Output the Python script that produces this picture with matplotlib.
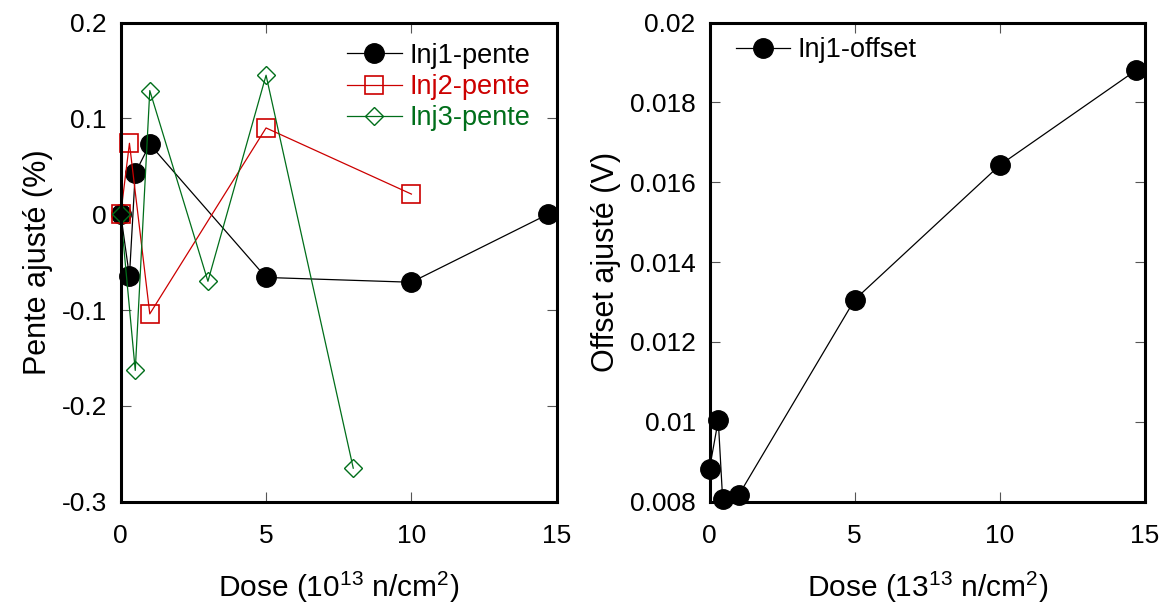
import matplotlib
matplotlib.use("Agg")
import matplotlib.pyplot as plt

plt.rcParams['font.family'] = ['Liberation Sans', 'DejaVu Sans']
plt.rcParams['mathtext.fontset'] = 'custom'
plt.rcParams['mathtext.rm'] = 'Liberation Sans'
plt.rcParams['mathtext.default'] = 'regular'

# pente data
x_inj1 = [0, 0.3, 0.5, 1, 5, 10, 14.7]
y_inj1 = [0, -0.065, 0.043, 0.073, -0.066, -0.071, 0]
x_inj2 = [0, 0.3, 1, 5, 10]
y_inj2 = [0, 0.074, -0.104, 0.09, 0.021]
x_inj3 = [0, 0.5, 1, 3, 5, 8]
y_inj3 = [0, -0.163, 0.129, -0.07, 0.145, -0.265]

# offset data
x_off = [0, 0.3, 0.45, 1, 5, 10, 14.7]
y_off = [0.00883, 0.01004, 0.00808, 0.00816, 0.01306, 0.01643, 0.01881]

left_yticks = [-0.3, -0.2, -0.1, 0, 0.1, 0.2]
left_ylabels = ['-0.3', '-0.2', '-0.1', '0', '0.1', '0.2']
right_yticks = [0.008, 0.01, 0.012, 0.014, 0.016, 0.018, 0.02]
right_ylabels = ['0.008', '0.01', '0.012', '0.014', '0.016', '0.018', '0.02']
xticks = [0, 5, 10, 15]

red = '#cc0000'
green = '#006e1a'

fig = plt.figure(figsize=(11.63, 6.12), dpi=100)
ax1 = fig.add_axes([0.1038, 0.1802, 0.3749, 0.783])
ax2 = fig.add_axes([0.6101, 0.1802, 0.3745, 0.783])

ax1.plot(x_inj1, y_inj1, '-o', color='black', lw=0.9, ms=14, label='Inj1-pente')
ax1.plot(x_inj2, y_inj2, '-s', color=red, lw=0.9, ms=13, mfc='none', mew=1.2, label='Inj2-pente')
ax1.plot(x_inj3, y_inj3, '-D', color=green, lw=0.9, ms=9.5, mfc='none', mew=1.0, label='Inj3-pente')

ax2.plot(x_off, y_off, '-o', color='black', lw=0.9, ms=14, label='Inj1-offset')

for ax in (ax1, ax2):
    ax.set_xlim(0, 15)
    ax.set_xticks(xticks)
    ax.set_xticklabels([str(t) for t in xticks])
    for s in ax.spines.values():
        s.set_linewidth(2.2)
    ax.tick_params(direction='in', length=7, width=0.8, color='#555555',
                   top=True, right=True, labelsize=19, pad=16)
    for l in ax.lines:
        l.set_clip_on(False)

ax1.set_ylim(-0.3, 0.2)
ax1.set_yticks(left_yticks)
ax1.set_yticklabels(left_ylabels)
ax2.set_ylim(0.008, 0.02)
ax2.set_yticks(right_yticks)
ax2.set_yticklabels(right_ylabels)
ax1.tick_params(axis='y', pad=10)
ax2.tick_params(axis='y', pad=10)

ax1.set_xlabel('Dose (10$^{13}$ n/cm$^2$)', fontsize=21.5, labelpad=16)
ax1.set_ylabel('Pente ajusté (%)', fontsize=22, labelpad=6)
ax2.set_xlabel('Dose (13$^{13}$ n/cm$^2$)', fontsize=21.5, labelpad=16)
ax2.set_ylabel('Offset ajusté (V)', fontsize=22, labelpad=6)

leg1 = ax1.legend(loc='upper right', bbox_to_anchor=(0.94, 0.958), frameon=False,
                  fontsize=19.5, handlelength=2.0, handletextpad=0.3,
                  labelspacing=0.2, borderaxespad=0, borderpad=0)
for t, c in zip(leg1.get_texts(), ['black', red, green]):
    t.set_color(c)
leg2 = ax2.legend(loc='upper left', bbox_to_anchor=(0.06, 0.969), frameon=False,
                  fontsize=19.5, handlelength=2.0, handletextpad=0.3,
                  borderaxespad=0, borderpad=0)

fig.savefig('out.png', dpi=100)
